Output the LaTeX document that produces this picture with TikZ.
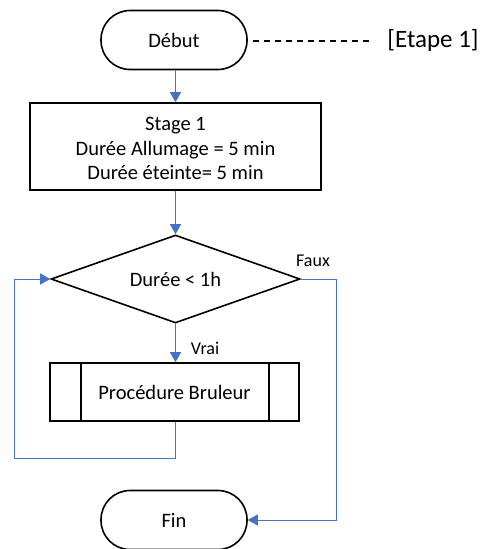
\documentclass[tikz,border=0pt]{standalone}
\usepackage{fontspec}
\setmainfont{Carlito}
\usetikzlibrary{arrows.meta,shapes.geometric}
\definecolor{conn}{HTML}{4472C4}
\begin{document}
\begin{tikzpicture}[x=1pt,y=-1pt,
  every node/.style={font=\fontsize{20.5}{24.5}\selectfont},
  term/.style={draw,line width=1.6pt,rounded corners=29pt,minimum width=146pt,minimum height=59pt,inner sep=0pt},
  procbox/.style={draw,line width=1.6pt,minimum width=291pt,minimum height=87pt,inner sep=0pt},
  decis/.style={draw,line width=1.6pt,diamond,aspect=2.83,minimum width=249pt,minimum height=88pt,inner sep=0pt},
  subproc/.style={draw,line width=1.6pt,minimum width=249pt,minimum height=58pt,inner sep=0pt},
  conline/.style={draw=conn,line width=1pt},
  arr/.style={conline,-{Triangle[length=10pt,width=11pt]}},
  lbl/.style={font=\fontsize{18}{22}\selectfont}
]
\useasboundingbox (0,0) rectangle (485,549);
\node[term] (debut) at (174,40) {Début};
\node[procbox] (stage) at (175.5,146.5) {};
\node[align=center] (stagetxt) at (175.5,148.5) {Stage 1\\Durée Allumage = 5 min\\Durée éteinte= 5 min};
\node[decis] (dec) at (175.5,279) {Durée < 1h};
\node[subproc] (proc) at (174.5,392) {Procédure Bruleur};
\draw[line width=1.6pt] ([xshift=32pt]proc.north west) -- ([xshift=32pt]proc.south west);
\draw[line width=1.6pt] ([xshift=-31pt]proc.north east) -- ([xshift=-31pt]proc.south east);
\node[term] (fin) at (174,520) {Fin};
\node[font=\fontsize{25}{30}\selectfont] (etape) at (433,40) {[Etape 1]};
\coordinate (dashend) at (372,41);
\draw[line width=1.2pt,dash pattern=on 6pt off 5pt] (debut.east) ++(5,1) -- (dashend);
\draw[arr] (debut.south -| 175.5,0) -- (stage.north -| 175.5,0);
\draw[arr] (stage.south -| 175.5,0) -- (dec.north);
\draw[arr] (dec.south) -- (proc.north -| 175.5,0);
\node[lbl] (vrai) at (205,348) {Vrai};
\node[lbl] (faux) at (313,261) {Faux};
\coordinate (loopA) at (175.5,458);
\coordinate (loopB) at (14,458);
\coordinate (loopC) at (14,279);
\draw[arr] (proc.south -| 175.5,0) -- (loopA) -- (loopB) -- (loopC) -- (dec.west);
\coordinate (fauxA) at (336,279);
\coordinate (fauxB) at (336,520);
\draw[arr] (dec.east) -- (fauxA) -- (fauxB) -- (fin.east);
\end{tikzpicture}
\end{document}
